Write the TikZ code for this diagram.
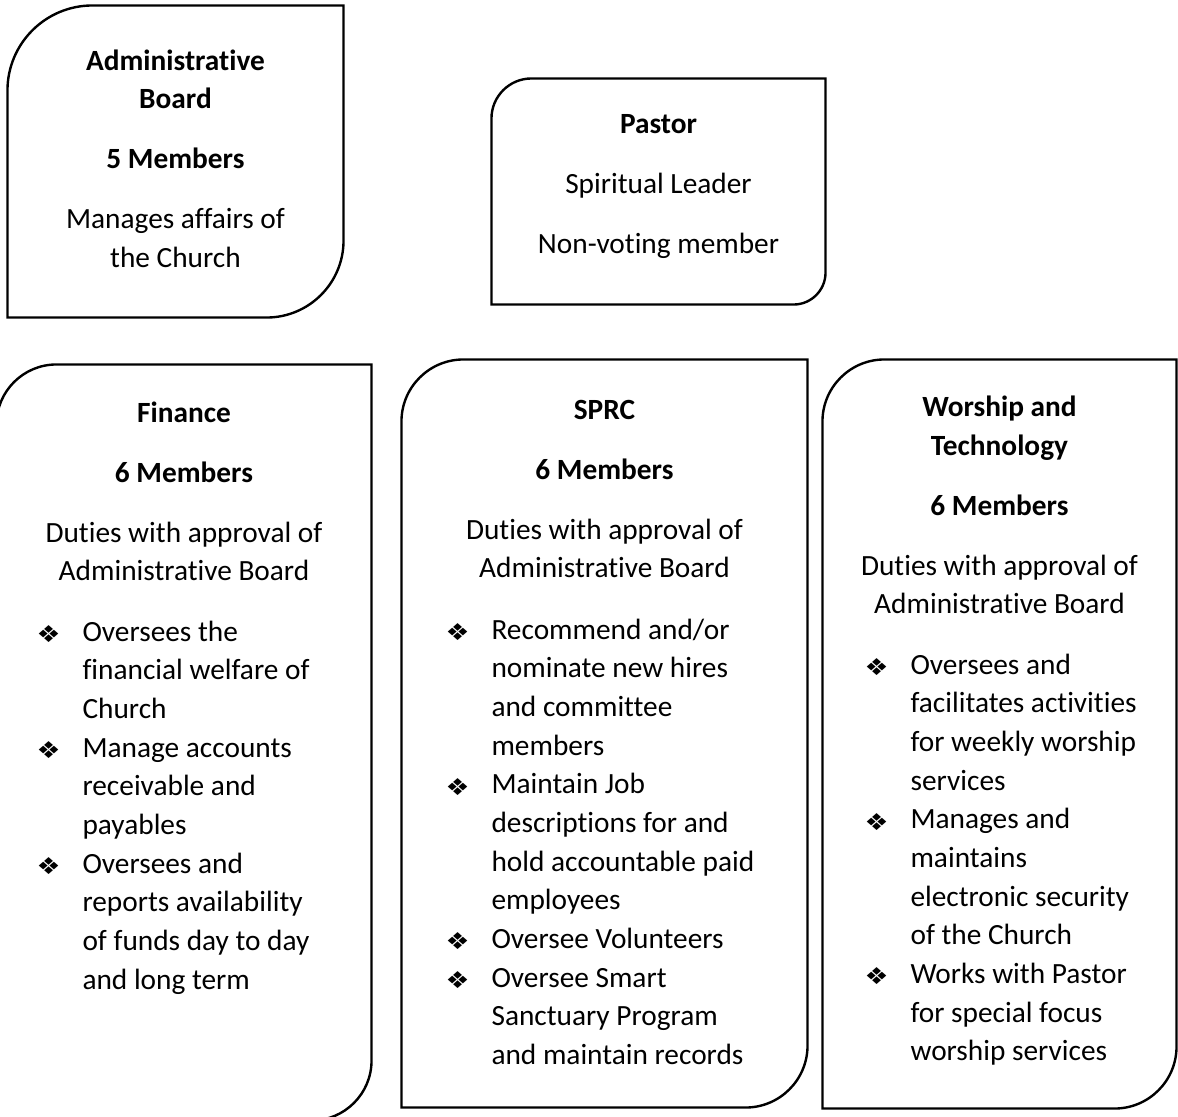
\documentclass[tikz,border=0pt]{standalone}
\usepackage{fontspec}
\setmainfont{Carlito}[Ligatures={NoCommon}]
\newfontfamily\glyphfont{DejaVu Sans}
\usetikzlibrary{fit}

\newlength{\pxu}
\setlength{\pxu}{0.375pt}
\newcommand{\cardfont}{\fontsize{11pt}{14.5pt}\selectfont}
\newcommand{\cardgap}{\\[8pt]}
\newcommand{\dutymark}{\raisebox{-1.5\pxu}{\resizebox*{24\pxu}{17\pxu}{\glyphfont ❖}}}
\newcommand{\duty}[1]{\leavevmode\llap{\makebox[46\pxu][l]{\dutymark}}#1\par}

% card: name, x1, y1, x2, y2 (px), radius top left, radius bottom right
\newcommand{\card}[7]{%
  \node[fit={(#2,#3) (#4,#5)}, inner sep=0pt] (#1) {};
  \draw[card] (#1.south west) -- ([yshift=-#6*\pxu]#1.north west)
    arc[start angle=180, end angle=90, radius=#6*\pxu]
    -- (#1.north east) -- ([yshift=#7*\pxu]#1.south east)
    arc[start angle=0, end angle=-90, radius=#7*\pxu] -- cycle;
}

\tikzset{
  card/.style={draw=black, line width=0.9pt},
  cardtext/.style={
    text width=140pt, align=flush center, inner sep=0pt,
    anchor=base, font=\cardfont
  },
  duties/.style={
    text width=120pt, align=flush left, inner sep=0pt,
    anchor=base west, font=\cardfont
  }
}

\begin{document}
\begin{tikzpicture}[x=0.375pt, y=-0.375pt]
  \useasboundingbox (0,0) rectangle (1178,1117);

  % Boxes
  \card{admin}{8}{6}{343}{317}{85}{77}
  \card{pastor}{492}{79}{825}{304}{40}{32}
  \card{finance}{-3}{365}{371}{1120}{60}{60}
  \card{sprc}{402}{360}{807}{1107}{62}{62}
  \card{worship}{823}{360}{1176}{1108}{62}{62}

  % Top row
  \node[cardtext] (admin-text) at (admin.center |- 0,70)
    {\textbf{Administrative\\Board}\cardgap\textbf{5 Members}\cardgap
     Manages affairs of\\the Church};
  \node[cardtext] (pastor-text) at (pastor.center |- 0,133)
    {\textbf{Pastor}\cardgap Spiritual Leader\cardgap Non-voting member};

  % Committees
  \node[cardtext] (finance-text) at (finance.center |- 0,422)
    {\textbf{Finance}\cardgap\textbf{6 Members}\cardgap
     Duties with approval of\\Administrative Board};
  \node[cardtext] (sprc-text) at (sprc.center |- 0,419)
    {\textbf{SPRC}\cardgap\textbf{6 Members}\cardgap
     Duties with approval of\\Administrative Board};
  \node[cardtext] (worship-text) at (worship.center |- 0,416.5)
    {\textbf{Worship and\\Technology}\cardgap\textbf{6 Members}\cardgap
     Duties with approval of\\Administrative Board};

  % Duty lists
  \node[duties] (finance-duties) at (82,641) {%
    \duty{Oversees the\\financial welfare of\\Church}%
    \duty{Manage accounts\\receivable and\\payables}%
    \duty{Oversees and\\reports availability\\of funds day to day\\and long term}};
  \node[duties] (sprc-duties) at (491,639) {%
    \duty{Recommend and/or\\nominate new hires\\and committee\\members}%
    \duty{Maintain Job\\descriptions for and\\hold accountable paid\\employees}%
    \duty{Oversee Volunteers}%
    \duty{Oversee Smart\\Sanctuary Program\\and maintain records}};
  \node[duties] (worship-duties) at (910,674) {%
    \duty{Oversees and\\facilitates activities\\for weekly worship\\services}%
    \duty{Manages and\\maintains\\electronic security\\of the Church}%
    \duty{Works with Pastor\\for special focus\\worship services}};

\end{tikzpicture}
\end{document}
